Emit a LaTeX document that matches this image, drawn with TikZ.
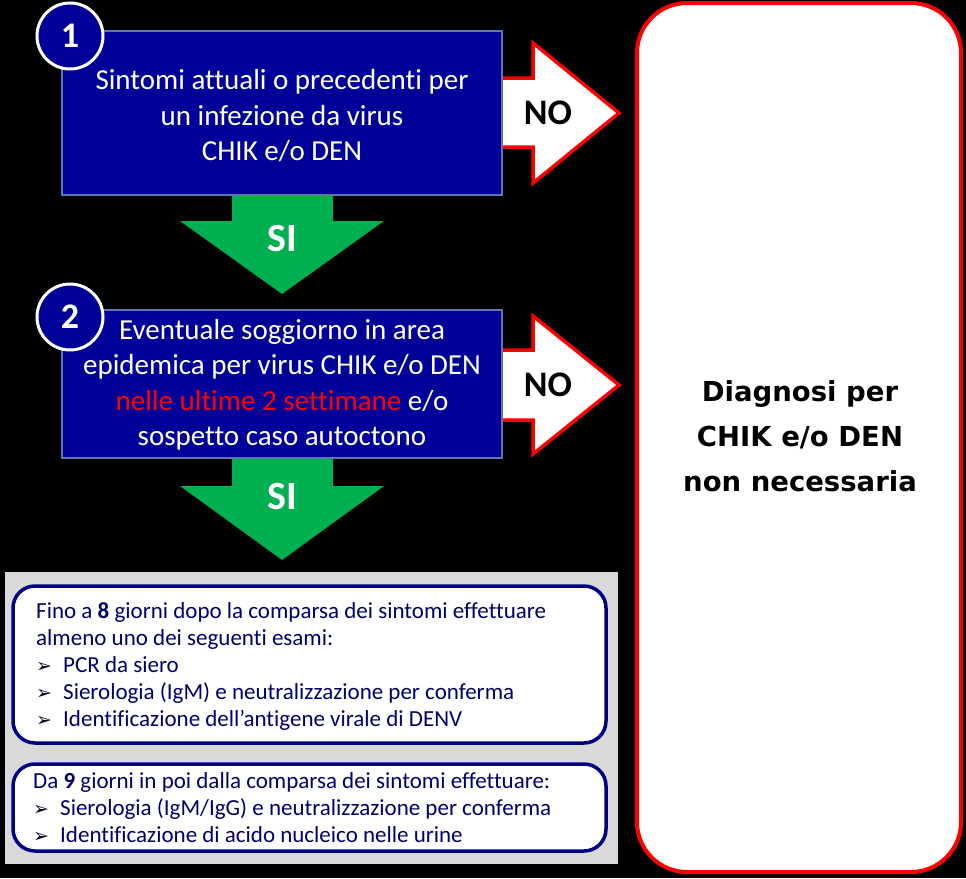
\documentclass[tikz,border=0pt]{standalone}
\usepackage{fontspec}
\setmainfont{Carlito}[Ligatures=NoCommon]
\newfontfamily\dvs{DejaVu Sans}
\definecolor{boxblue}{RGB}{0,0,153}
\definecolor{boxedge}{RGB}{90,120,180}
\definecolor{siGreen}{RGB}{0,176,80}
\definecolor{noRed}{RGB}{255,0,0}
\definecolor{panelGray}{RGB}{217,217,217}
\definecolor{navy}{RGB}{0,0,110}
\definecolor{navyedge}{RGB}{0,0,130}
\tikzset{
  qbox/.style={fill=boxblue,draw=boxedge,line width=1.5pt},
  numcirc/.style={circle,fill=boxblue,draw=white,line width=3pt,minimum size=66pt,inner sep=0pt,text=white,font=\fontsize{36}{36}\selectfont\bfseries},
  qtext/.style={text=white,align=center,font=\fontsize{29}{35.5}\selectfont,inner sep=0pt},
  sitext/.style={text=white,font=\fontsize{40}{40}\selectfont\bfseries,inner sep=0pt},
  notext/.style={text=black,font=\fontsize{36}{36}\selectfont\bfseries,inner sep=0pt},
  greenarrow/.style={fill=siGreen},
  noarrow/.style={fill=white,draw=noRed,line width=3.5pt,line join=miter},
  inbox/.style={fill=white,draw=navyedge,line width=3.5pt,rounded corners=22pt},
  intext/.style={text=navy,align=left,font=\fontsize{23}{27}\selectfont,inner sep=0pt,anchor=base west},
}
\newcommand{\bul}{\makebox[27pt][l]{\dvs\fontsize{19}{19}\selectfont\color{black!80!navy}➢}}
\begin{document}
\begin{tikzpicture}[x=1pt,y=-1pt]
\useasboundingbox (0,0) rectangle (966,878);
\fill[black] (0,0) rectangle (966,878);

% right result box
\draw[fill=white,draw=noRed,line width=4pt,rounded corners=50pt] (637,3) rectangle (961,872);
\node[text=black,align=center,font=\dvs\fontsize{27.5}{45}\selectfont\bfseries,inner sep=0pt] (res) at (800,436) {Diagnosi per\\CHIK e/o DEN\\non necessaria};

% NO arrows
\draw[noarrow] (495,78) -- (533,78) -- (533,43) -- (619,113) -- (533,183) -- (533,147) -- (495,147);
\draw[noarrow] (495,350) -- (533,350) -- (533,316) -- (619,385) -- (533,454) -- (533,420) -- (495,420);

% green arrows
\fill[greenarrow] (232,190) -- (333,190) -- (333,221) -- (384,221) -- (282,294) -- (180,221) -- (232,221) -- cycle;
\fill[greenarrow] (232,455) -- (333,455) -- (333,486) -- (384,486) -- (282,560) -- (180,486) -- (232,486) -- cycle;

% question boxes
\draw[qbox] (62,31) rectangle (502,195);
\draw[qbox] (62,310) rectangle (502,458);

\node[qtext] (q1) at (282,116) {Sintomi attuali o precedenti per\\un infezione da virus\\CHIK e/o DEN};
\node[qtext] (q2) at (282,385) {Eventuale soggiorno in area\\epidemica per virus CHIK e/o DEN\\{\color{noRed}nelle ultime 2 settimane} e/o\\sospetto caso autoctono};

\node[numcirc] (c1) at (70,36) {1};
\node[numcirc] (c2) at (70,317) {2};

\node[sitext] (si1) at (282,239) {SI};
\node[sitext] (si2) at (282,497) {SI};
\node[notext] (no1) at (548,113) {NO};
\node[notext] (no2) at (548,385) {NO};

% lower panel
\fill[panelGray] (5,572) rectangle (618,864);
\draw[inbox] (13,586) rectangle (606,743);
\draw[inbox] (13,764) rectangle (606,851);

\node[intext] (t1) at (36,726) {Fino a \textbf{8} giorni dopo la comparsa dei sintomi effettuare\\
almeno uno dei seguenti esami:\\
\bul PCR da siero\\
\bul Sierologia (IgM) e neutralizzazione per conferma\\
\bul Identificazione dell’antigene virale di DENV};
\node[intext] (t2) at (33,842) {Da \textbf{9} giorni in poi dalla comparsa dei sintomi effettuare:\\
\bul Sierologia (IgM/IgG) e neutralizzazione per conferma\\
\bul Identificazione di acido nucleico nelle urine};
\end{tikzpicture}
\end{document}
